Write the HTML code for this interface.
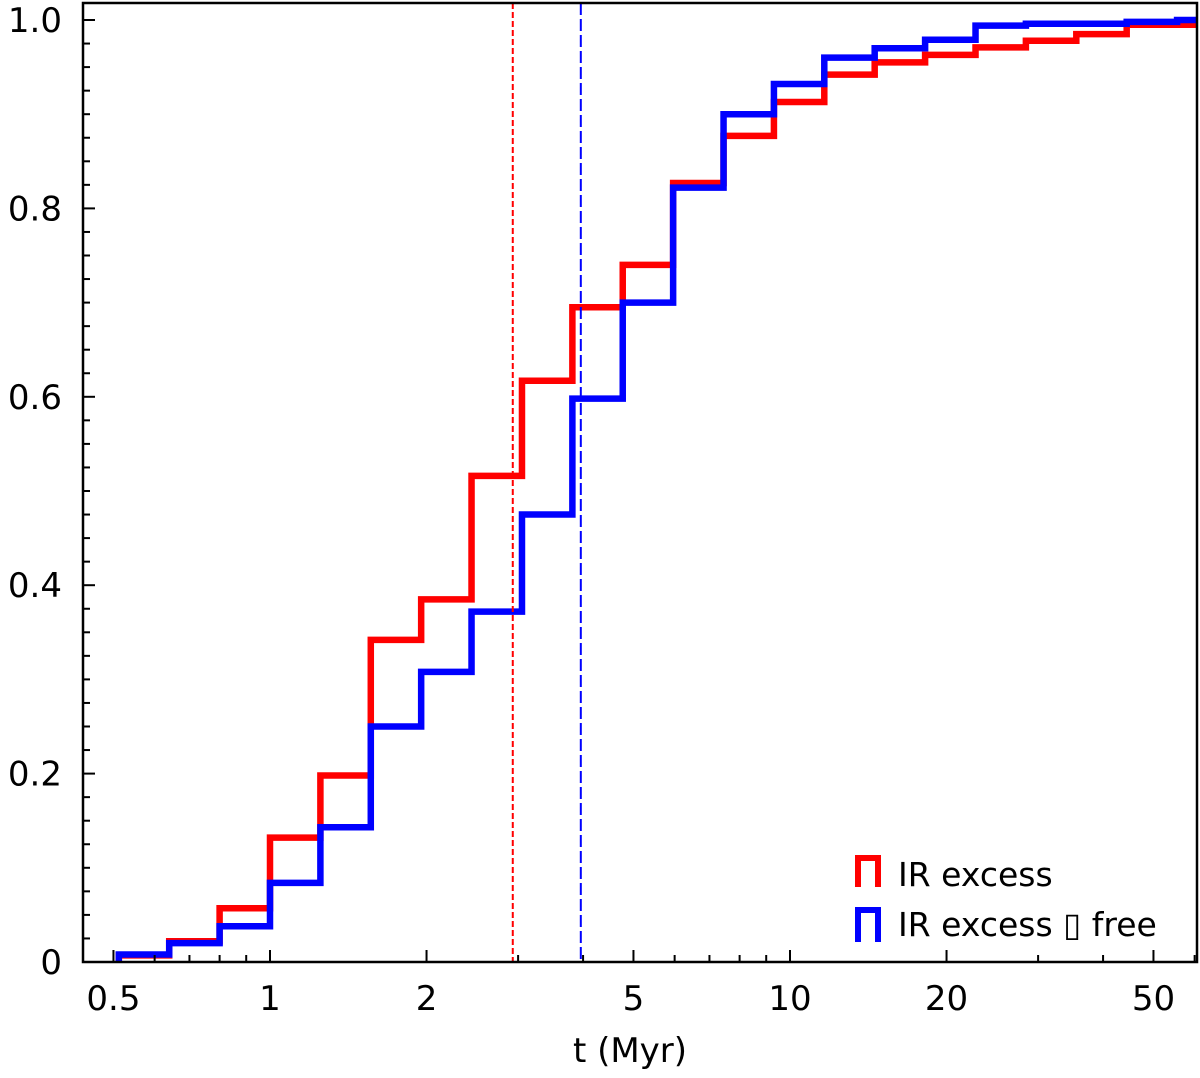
<!DOCTYPE html>
<html><head><meta charset="utf-8"><style>
body{margin:0;background:#fff;}
svg text{font-family:"DejaVu Sans","Liberation Sans",sans-serif;fill:#000;}
</style></head><body>
<svg id="chart" width="1200" height="1073" xmlns="http://www.w3.org/2000/svg"></svg>
<script>
const binEdges=[0.512,0.64,0.8,1.0,1.25,1.5625,1.953,2.441,3.052,3.815,4.768,5.96,7.451,9.313,11.64,14.55,18.19,22.74,28.42,35.53,44.41,55.51,69.39];
const redValues=[0.007,0.022,0.057,0.132,0.198,0.342,0.385,0.516,0.617,0.695,0.74,0.827,0.877,0.913,0.942,0.955,0.963,0.971,0.978,0.985,0.995,0.995];
const blueValues=[0.008,0.02,0.038,0.084,0.143,0.25,0.308,0.372,0.475,0.598,0.7,0.822,0.9,0.932,0.96,0.97,0.979,0.994,0.996,0.996,0.998,1.0];
const redMedian=2.93, blueMedian=3.96;
const xTickValues=[0.5,1,2,5,10,20,50];
const xTickLabels=["0.5","1","2","5","10","20","50"];
const yTickValues=[0,0.2,0.4,0.6,0.8,1.0];
const yTickLabels=["0","0.2","0.4","0.6","0.8","1.0"];

const NS="http://www.w3.org/2000/svg";
const svg=document.getElementById('chart');
const L=83,R=1197,T=3,B=962;
const x=v=>270+520*Math.log10(v);
const y=v=>962-942*v;
function el(t,a,p){const e=document.createElementNS(NS,t);for(const k in a)e.setAttribute(k,a[k]);(p||svg).appendChild(e);return e;}

const clip=el('clipPath',{id:'cp'});el('rect',{x:L,y:T,width:R-L,height:B-T},clip);
const plot=el('g',{'clip-path':'url(#cp)'});



function stepPath(vals){let d=`M${x(binEdges[0])},${B}`;for(let i=0;i<vals.length;i++){d+=` L${x(binEdges[i])},${y(vals[i])} L${x(binEdges[i+1])},${y(vals[i])}`;}return d;}
const rp=el('path',{d:stepPath(redValues),fill:'none',stroke:'#f00','stroke-width':6.5},plot);


const bp=el('path',{d:stepPath(blueValues),fill:'none',stroke:'#00f','stroke-width':6.5},plot);


const rm=el('line',{x1:x(redMedian),x2:x(redMedian),y1:T,y2:B,stroke:'#f00','stroke-width':2,'stroke-dasharray':'6,3'});


const bm=el('line',{x1:x(blueMedian),x2:x(blueMedian),y1:T,y2:B,stroke:'#00f','stroke-width':2,'stroke-dasharray':'12,4'});



const frame=el('rect',{x:L,y:T,width:R-L,height:B-T,fill:'none',stroke:'#000','stroke-width':2.5});



for(let k=0;k<=40;k++){const v=k*0.025;const yy=y(v);const major=k%8===0;
 el('line',{x1:L,x2:L+(major?12:7),y1:yy,y2:yy,stroke:'#000','stroke-width':2});}
yTickValues.forEach((v,i)=>{const t=el('text',{x:62,y:y(v)+12,'font-size':34,'text-anchor':'end'});t.textContent=yTickLabels[i];
 
 });
for(let d=-1;d<=1;d++)for(let m=1;m<=9;m++){const v=m*Math.pow(10,d);const xx=x(v);if(xx<L||xx>R)continue;
 const major=xTickValues.includes(Math.round(v*10)/10);
 el('line',{x1:xx,x2:xx,y1:B,y2:B-(major?12:7),stroke:'#000','stroke-width':2});}
xTickValues.forEach((v,i)=>{const t=el('text',{x:x(v),y:1010,'font-size':34,'text-anchor':'middle'});t.textContent=xTickLabels[i];
 
 });
const xt=el('text',{x:630,y:1062,'font-size':34,'text-anchor':'middle'});xt.textContent='t (Myr)';



const lg=el('g',{});


el('path',{d:'M858,887 L858,858 L878,858 L878,887',fill:'none',stroke:'#f00','stroke-width':6},lg);
const t1=el('text',{x:898,y:886,'font-size':33},lg);t1.textContent='IR excess';


el('path',{d:'M858,942 L858,910 L878,910 L878,942',fill:'none',stroke:'#00f','stroke-width':6},lg);
const t2=el('text',{x:898,y:936,'font-size':33},lg);t2.textContent='IR excess \u25AF free';


</script>
</body></html>
